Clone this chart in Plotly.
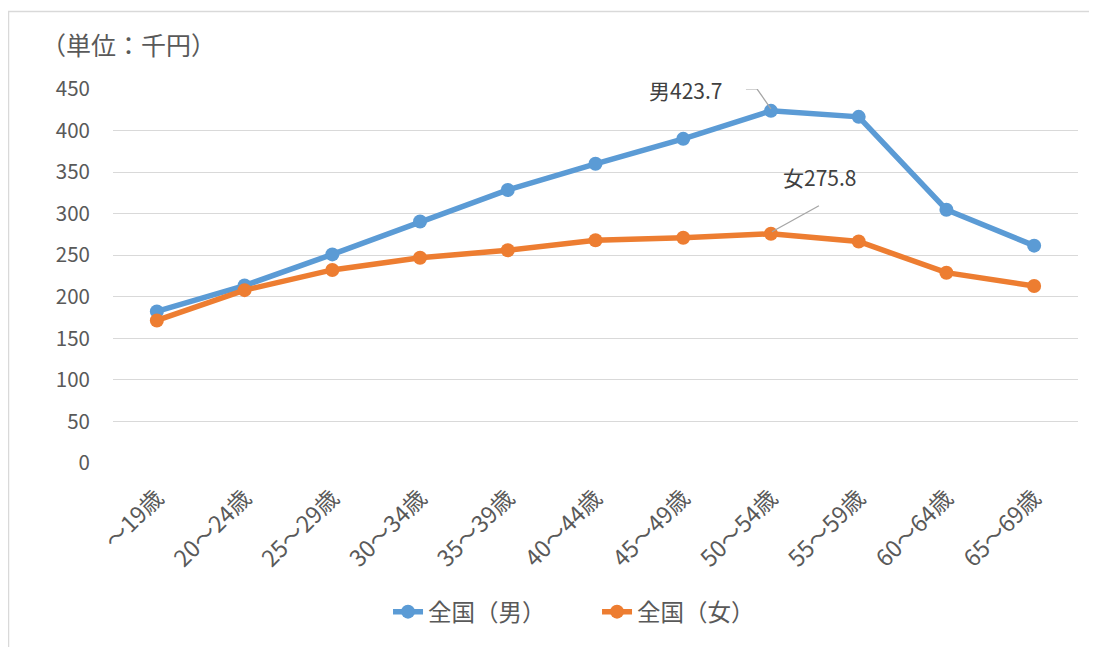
import plotly.graph_objects as go

categories = ["～19歳", "20～24歳", "25～29歳", "30～34歳", "35～39歳", "40～44歳",
              "45～49歳", "50～54歳", "55～59歳", "60～64歳", "65～69歳"]
male = [182.4, 213.5, 251.0, 290.5, 328.5, 360.0, 390.0, 423.7, 416.5, 304.8, 261.5]
female = [171.5, 208.0, 232.3, 247.0, 256.0, 268.0, 271.0, 275.8, 266.5, 229.0, 213.0]
y_ticks = [0, 50, 100, 150, 200, 250, 300, 350, 400, 450]

FONT = "Noto Sans CJK JP"
GRAY = "#595959"
BLUE = "#5B9BD5"
ORANGE = "#ED7D31"

fig = go.Figure()
fig.add_trace(go.Scatter(x=categories, y=male, mode="lines+markers", name="全国（男）",
                         line=dict(color=BLUE, width=5.5), marker=dict(size=14, color=BLUE)))
fig.add_trace(go.Scatter(x=categories, y=female, mode="lines+markers", name="全国（女）",
                         line=dict(color=ORANGE, width=5.5), marker=dict(size=14, color=ORANGE)))

peak = categories.index("50～54歳")

fig.update_layout(
    width=1089, height=639,
    margin=dict(l=105, r=19, t=81, b=184),
    paper_bgcolor="white", plot_bgcolor="white",
    font=dict(family=FONT, color=GRAY, size=20),
    showlegend=True,
    legend=dict(orientation="h", x=0.285, y=-0.398, xanchor="left", yanchor="middle",
                font=dict(size=23.5, color=GRAY), entrywidth=164, entrywidthmode="pixels"),
    xaxis=dict(type="category", range=[-0.5, len(categories) - 0.5],
               showgrid=False, showline=False, zeroline=False,
               tickangle=-45, tickfont=dict(size=23, color=GRAY), ticks="",
               ticklabelstandoff=16, automargin=False),
    yaxis=dict(range=[0, 450], tickvals=y_ticks, showgrid=True, gridcolor="#D9D9D9",
               gridwidth=1.3, zeroline=False, showline=False, ticks="",
               tickfont=dict(size=20.5, color=GRAY), ticklabelstandoff=22, automargin=False),
)

fig.add_annotation(text="（単位：千円）", xref="paper", yref="paper", x=-0.077, y=1.12,
                   xanchor="left", yanchor="middle", showarrow=False,
                   font=dict(size=25, color=GRAY))

# data labels with leader lines
fig.add_annotation(text=f"男{male[peak]}", x=categories[peak], y=male[peak], xref="x", yref="y",
                   xanchor="right", yanchor="middle", xshift=-47, yshift=21, showarrow=False,
                   font=dict(size=21, color="#404040"))
fig.add_annotation(text=f"女{female[peak]}", x=categories[peak], y=female[peak], xref="x", yref="y",
                   xanchor="center", yanchor="middle", xshift=49, yshift=57, showarrow=False,
                   font=dict(size=21, color="#404040"))

fig.add_shape(type="path", xref="x", yref="y", xsizemode="pixel", ysizemode="pixel",
              xanchor=peak, yanchor=male[peak],
              path="M 0 2 L -14 22 L -25 22", line=dict(color="#A6A6A6", width=1.3))
fig.add_shape(type="path", xref="x", yref="y", xsizemode="pixel", ysizemode="pixel",
              xanchor=peak, yanchor=female[peak],
              path="M 1 2 L 48 28", line=dict(color="#A6A6A6", width=1.3))

# chart border (cropped chart area frame)
fig.add_shape(type="path", xref="paper", yref="paper", layer="below",
              path="M -0.1083 -0.6 L -0.1083 1.207 L 1.05 1.207",
              line=dict(color="#D9D9D9", width=1.5))

fig.write_html("out.html")
